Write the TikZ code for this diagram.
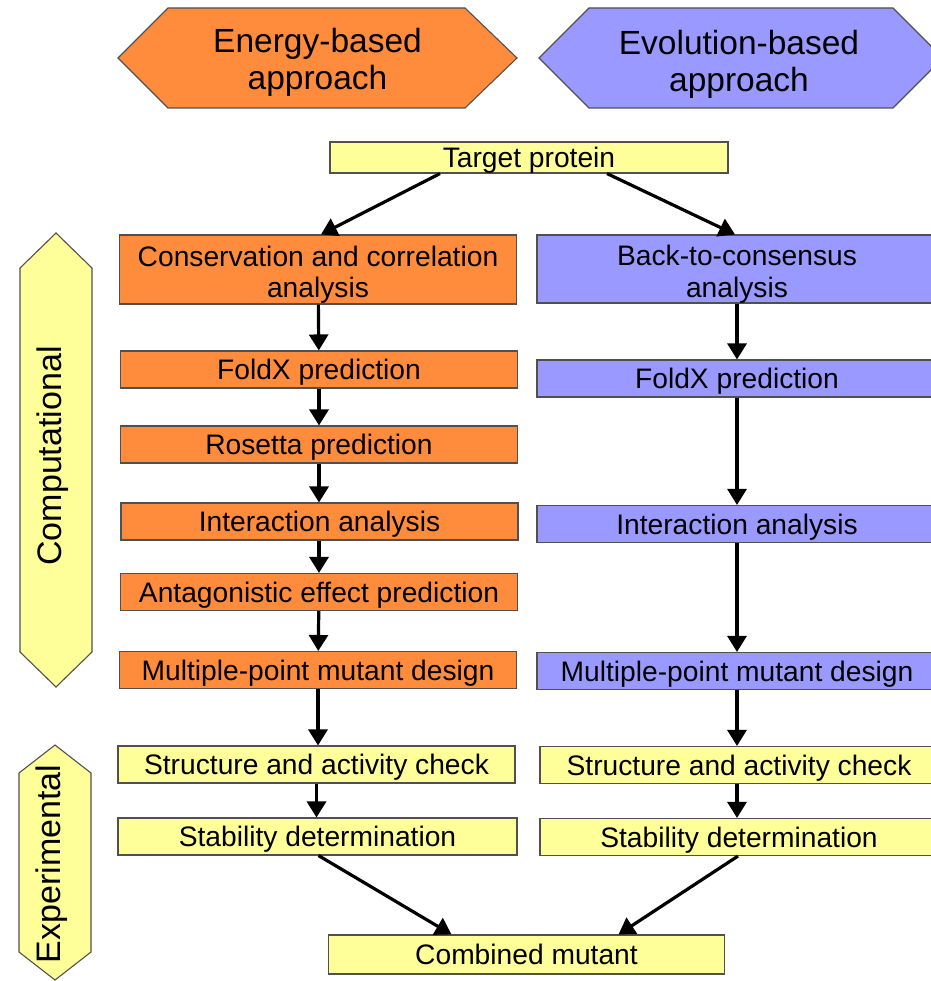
\documentclass[tikz,border=0pt]{standalone}
\usepackage{fontspec}
\setmainfont{Liberation Sans}
\usetikzlibrary{arrows.meta,calc}
\definecolor{engorange}{RGB}{255,140,60}
\definecolor{evoblue}{RGB}{153,153,255}
\definecolor{stageyellow}{RGB}{255,255,153}
\definecolor{edgegray}{RGB}{80,80,80}
\begin{document}
\begin{tikzpicture}[x=1pt,y=-1pt,
  box/.style={draw=edgegray,line width=1.1pt,minimum height=37pt,inner sep=0pt,
    font=\fontsize{28.2}{32}\selectfont,align=center,text height=20pt,text depth=0pt},
  twoline/.style={text height=57pt,text depth=0pt},
  ebox/.style={box,fill=engorange,minimum width=397pt},
  vbox/.style={box,fill=evoblue,minimum width=400pt},
  ybox/.style={box,fill=stageyellow},
  hexshape/.style={draw=edgegray,line width=1.1pt},
  flow/.style={line width=3.2pt,-{Triangle[width=19pt,length=16pt]}},
  headtext/.style={font=\fontsize{33.5}{36.5}\selectfont,align=center},
  sidetext/.style={font=\fontsize{34}{36}\selectfont,rotate=90}]
\useasboundingbox (0,0) rectangle (930,981);

% approach headers
\fill[engorange] (118,58) -- (168,8) -- (465,8) -- (517,58) -- (465,108) -- (168,108) -- cycle;
\draw[hexshape] (118,58) -- (168,8) -- (465,8) -- (517,58) -- (465,108) -- (168,108) -- cycle;
\node[headtext] (energy) at (317.5,62.5) {Energy-based\\approach};
\fill[evoblue] (539,58) -- (589,8) -- (893,8) -- (943,58) -- (893,108) -- (589,108) -- cycle;
\draw[hexshape] (539,58) -- (589,8) -- (893,8) -- (943,58) -- (893,108) -- (589,108) -- cycle;
\node[headtext] (evolution) at (739,64.5) {Evolution-based\\approach};

% stage markers
\draw[hexshape,fill=stageyellow] (56,233) -- (92,268) -- (92,652) -- (56,687) -- (20,652) -- (20,268) -- cycle;
\node[sidetext] (comp) at (53,456) {Computational};
\draw[hexshape,fill=stageyellow] (55,745) -- (91,773) -- (91,952) -- (55,980) -- (19,952) -- (19,773) -- cycle;
\node[sidetext] (exper) at (52,864) {Experimental};

% start
\node[ybox,minimum width=398pt,minimum height=31pt] (target) at (529,157.5) {Target protein};

% energy-based column
\node[ebox,twoline,minimum height=69pt] (cons) at (318,269.5) {Conservation and correlation\\analysis};
\node[ebox] (foldl) at (319,369.5) {FoldX prediction};
\node[ebox] (ros) at (319,444.5) {Rosetta prediction};
\node[ebox] (interl) at (319.5,521.5) {Interaction analysis};
\node[ebox] (antag) at (319,592) {Antagonistic effect prediction};
\node[ebox] (multl) at (318,670) {Multiple-point mutant design};
\node[ybox,minimum width=397pt] (strucl) at (316.5,764.5) {Structure and activity check};
\node[ybox,minimum width=399pt] (stabl) at (317.5,836.5) {Stability determination};

% evolution-based column
\node[vbox,twoline,minimum height=68pt] (back) at (737,269) {Back-to-consensus\\analysis};
\node[vbox] (foldr) at (737,378.5) {FoldX prediction};
\node[vbox] (interr) at (737,524) {Interaction analysis};
\node[vbox] (multr) at (737,671) {Multiple-point mutant design};
\node[ybox,minimum width=398pt] (strucr) at (739,765) {Structure and activity check};
\node[ybox,minimum width=398pt] (stabr) at (739,837) {Stability determination};

% end
\node[ybox,minimum width=396pt,minimum height=39pt] (comb) at (526.5,954.5) {Combined mutant};

% connectors
\draw[flow] ($(target.south)+(-89,0)$) -- ($(cons.north)+(3,0)$);
\draw[flow] ($(target.south)+(78,0)$) -- ($(back.north)+(-2,0)$);
\draw[flow] (cons) -- (foldl);
\draw[flow] (foldl) -- (ros);
\draw[flow] (ros) -- (ros |- interl.north);
\draw[flow] (interl.south -| antag) -- (antag);
\draw[flow] (antag) -- (multl);
\draw[flow] (multl) -- (multl |- strucl.north);
\draw[flow] (strucl) -- (stabl.north -| strucl);
\draw[flow] (back) -- (foldr);
\draw[flow] (foldr) -- (interr);
\draw[flow] (interr) -- (multr);
\draw[flow] (multr) -- (multr |- strucr.north);
\draw[flow] (strucr.south -| multr) -- (multr |- stabr.north);
\draw[flow] ($(stabl.south)+(1,0)$) -- ($(comb.north)+(-75,0)$);
\draw[flow] ($(stabr.south)+(-1,0)$) -- ($(comb.north)+(92,0)$);
\end{tikzpicture}
\end{document}
